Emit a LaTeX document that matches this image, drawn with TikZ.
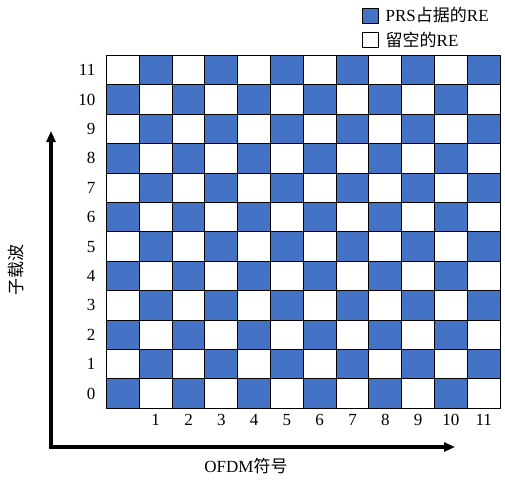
\documentclass[tikz,border=0pt]{standalone}
\usepackage{fontspec}
\setmainfont{Liberation Serif}
\newfontfamily\cjk{Noto Sans CJK SC}
\definecolor{prsblue}{HTML}{4472C4}
\usetikzlibrary{arrows.meta, positioning}

\begin{document}
\begin{tikzpicture}[x=1pt, y=-1pt,
		re/.style={draw=black, line width=1pt, minimum width=32.8pt, minimum height=29.4pt, inner sep=0pt, outer sep=0pt},
		prs/.style={re, fill=prsblue},
		idle/.style={re, fill=white},
		lbl/.style={font=\fontsize{17}{19}\selectfont, inner sep=0pt},
		axis/.style={line width=3.5pt, line join=miter, {Triangle[length=11pt,width=9pt]}-{Triangle[length=11pt,width=9pt]}}
	]
	\useasboundingbox (0,0) rectangle (505,482);
	% resource grid
	\foreach \i in {0,...,11} {
			\foreach \j in {0,...,11} {
					\ifodd\numexpr\i+\j\relax
						\node[idle] (c-\i-\j) at (122.9+32.8*\j, 393.6-29.4*\i) {};
					\else
						\node[prs] (c-\i-\j) at (122.9+32.8*\j, 393.6-29.4*\i) {};
					\fi
				}
		}
	\foreach \i in {0,...,11} {
			\node[lbl, left=11pt of c-\i-0] (row\i) {\i};
		}
	\foreach \j in {1,...,11} {
			\node[lbl, below=6pt of c-0-\j] (col\j) {\j};
		}
	% axes
	\coordinate (o) at (51,447);
	\coordinate (ytip) at (51,131);
	\coordinate (xtip) at (455,447);
	\draw[axis] (ytip) -- (o) -- (xtip);
	\node[lbl, rotate=90] (ylab) at (16,270) {\cjk 子载波};
	\node[lbl] (xlab) at (246,466) {OFDM{\cjk 符号}};
	% legend
	\node[prs, minimum width=16pt, minimum height=15pt] (key1) at (370.5,15.5) {};
	\node[idle, minimum width=16pt, minimum height=15pt] (key2) at (370.5,39.5) {};
	\node[lbl, right=7pt of key1] (keytext1) {PRS{\cjk 占据的}RE};
	\node[lbl, right=7pt of key2] (keytext2) {{\cjk 留空的}RE};
\end{tikzpicture}
\end{document}
